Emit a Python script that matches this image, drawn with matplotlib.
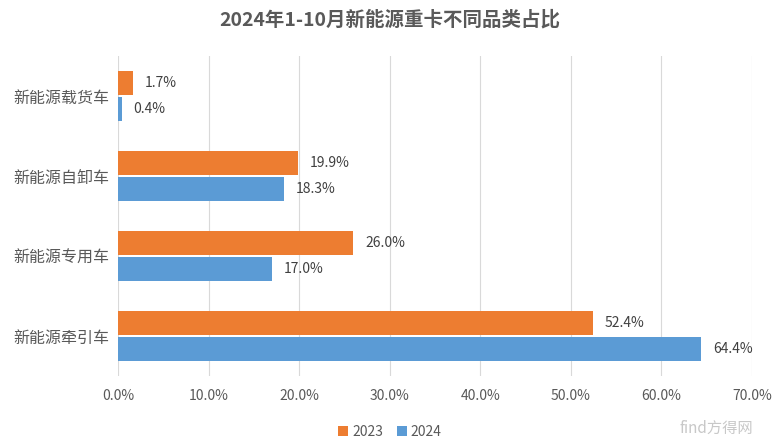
import matplotlib
matplotlib.use("Agg")
import matplotlib.pyplot as plt
import numpy as np

plt.rcParams['font.family'] = ['Noto Sans CJK SC', 'DejaVu Sans']

categories = ["新能源载货车", "新能源自卸车", "新能源专用车", "新能源牵引车"]
values_2023 = [1.7, 19.9, 26.0, 52.4]
values_2024 = [0.4, 18.3, 17.0, 64.4]
series_names = ["2023", "2024"]
xticks = [0, 10, 20, 30, 40, 50, 60, 70]

c23 = "#ED7D31"
c24 = "#5B9BD5"
grey = "#595959"

fig = plt.figure(figsize=(7.8, 4.46), dpi=100)
ax = fig.add_axes([118/780, 1-376/446, (752-118)/780, (376-56)/446])

y = np.arange(len(categories))
h = 0.3
off = 0.165
b1 = ax.barh(y - off, values_2023, height=h, color=c23, label=series_names[0], zorder=3)
b2 = ax.barh(y + off, values_2024, height=h, color=c24, label=series_names[1], zorder=3)

for yy, v in zip(y - off, values_2023):
    ax.text(v + 1.3, yy, f"{v:.1f}%", va="center", ha="left", fontsize=10, color="#404040")
for yy, v in zip(y + off, values_2024):
    ax.text(v + 1.3, yy, f"{v:.1f}%", va="center", ha="left", fontsize=10, color="#404040")

ax.set_xlim(0, 70)
ax.set_ylim(len(categories) - 0.5, -0.5)
ax.set_xticks(xticks)
ax.set_xticklabels([f"{t:.1f}%" for t in xticks], fontsize=10, color=grey)
ax.tick_params(axis="x", length=0, pad=9)
ax.set_yticks(y)
ax.set_yticklabels(categories, fontsize=11.5, color=grey)
ax.tick_params(axis="y", length=0, pad=6)
ax.xaxis.grid(True, color="#D9D9D9", linewidth=0.8, zorder=0)
for s in ax.spines.values():
    s.set_visible(False)

fig.text(0.5, 1-20/446, "2024年1-10月新能源重卡不同品类占比", ha="center", va="center",
         fontsize=14, fontweight="bold", color=grey)

leg = fig.legend(handles=[b1, b2], labels=series_names, loc="center", bbox_to_anchor=(0.5, 1-432/446),
                 ncol=2, frameon=False, fontsize=10, handlelength=0.7, handleheight=0.7,
                 handletextpad=0.3, columnspacing=1.0)
for t in leg.get_texts():
    t.set_color(grey)

fig.text(0.965, 1-428/446, "find方得网", ha="right", va="center", fontsize=11, color="#C8C8C8")

fig.savefig("out.png", dpi=100)
